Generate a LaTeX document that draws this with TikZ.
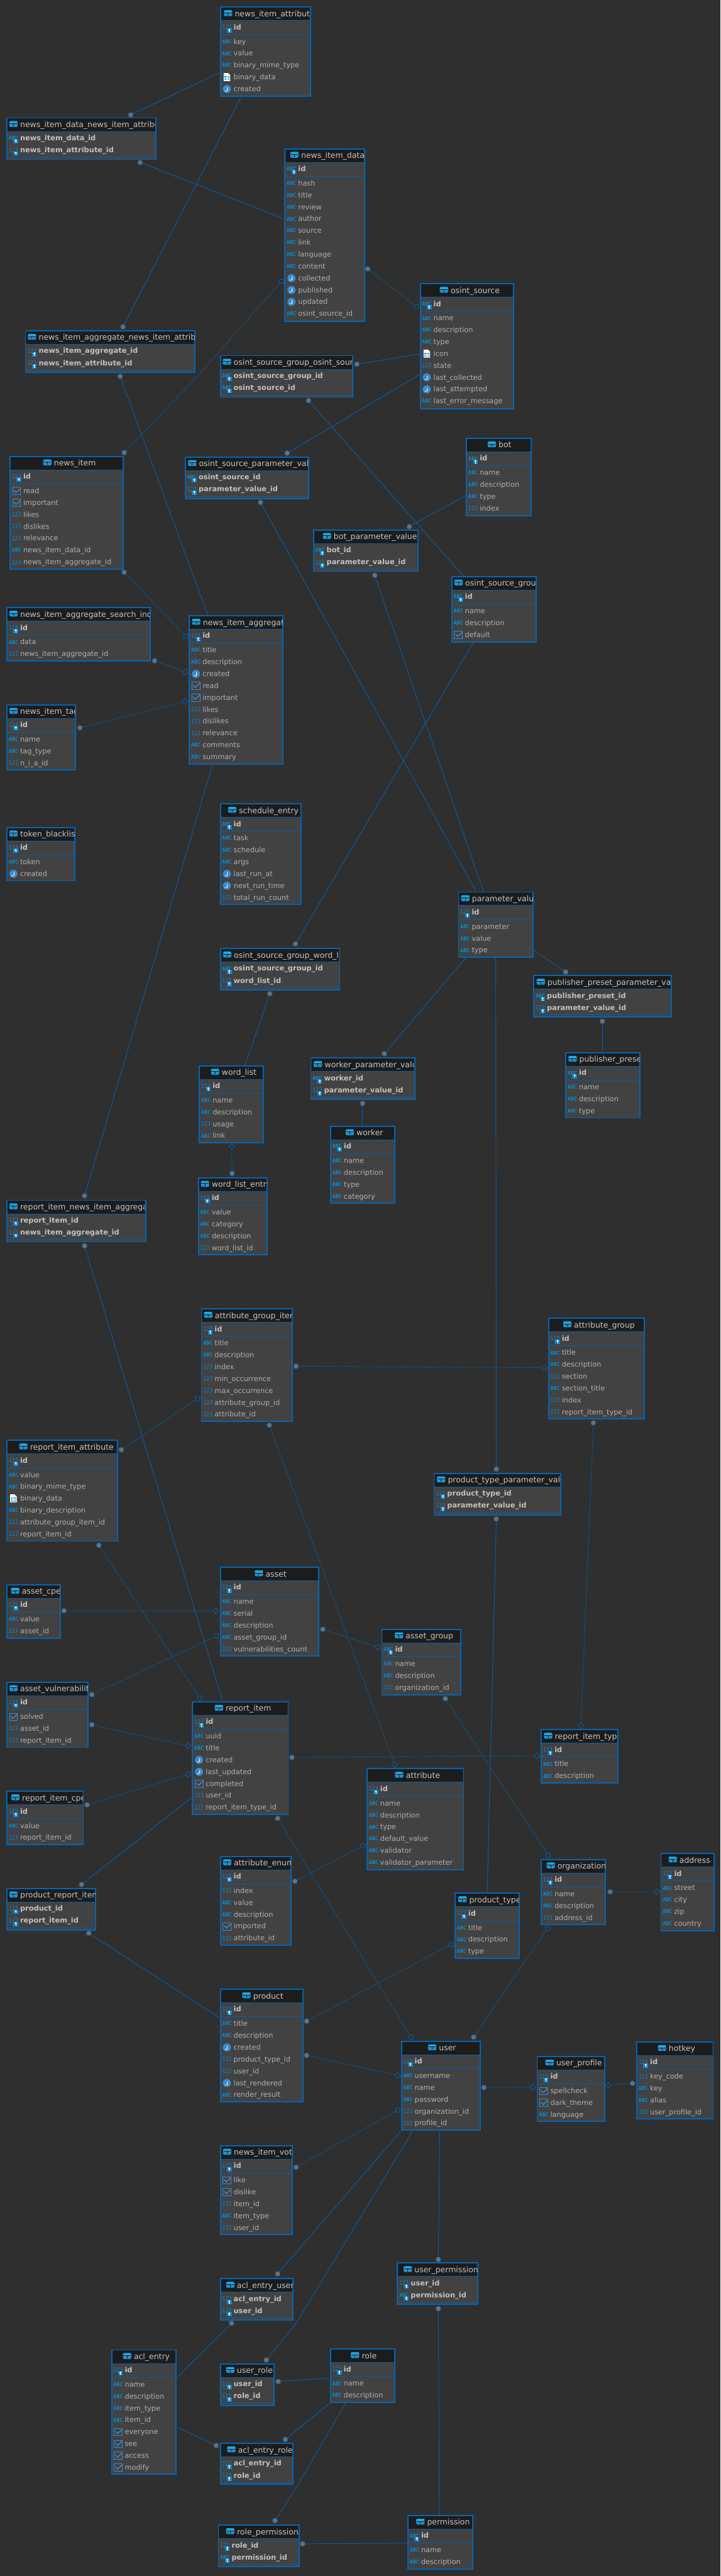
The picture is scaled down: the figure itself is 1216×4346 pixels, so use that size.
\documentclass[tikz,border=0pt]{standalone}
\usepackage{fontspec}
\usepackage{graphicx}
\setmainfont{DejaVu Sans}
\usetikzlibrary{calc}
\AtBeginDocument{\catcode`\_=12 }
\definecolor{pagebg}{HTML}{2F2F2F}
\definecolor{bodybg}{HTML}{424242}
\definecolor{titlebg}{HTML}{1C1C1C}
\definecolor{frameblue}{HTML}{0565B2}
\definecolor{sepblue}{HTML}{0B5C9E}
\definecolor{lineblue}{HTML}{0A5EA6}
\definecolor{dimblue}{HTML}{0B5790}
\definecolor{iconblue}{HTML}{0A88CC}
\definecolor{clockblue}{HTML}{3A8CCF}
\definecolor{tabblue}{HTML}{22A7E2}
\definecolor{tablight}{HTML}{1B93D3}
\definecolor{rowgray}{HTML}{B0B0B0}
\definecolor{boldgray}{HTML}{C2C2C2}
\definecolor{titlegray}{HTML}{C6C6C6}
\definecolor{dotgray}{HTML}{6F6F6F}
\newcounter{nn}
\tikzset{
  tablebox/.style={draw=frameblue,line width=2pt,fill=bodybg,inner sep=0pt,outer sep=0pt},
  rowname/.style={inner sep=0pt,outer sep=0pt,anchor=base west,text=rowgray,font=\fontsize{12}{14}\selectfont},
  pkname/.style={inner sep=0pt,outer sep=0pt,anchor=base west,text=boldgray,font=\fontsize{12.1}{14}\selectfont\bfseries},
  titlename/.style={inner sep=0pt,outer sep=0pt,anchor=base west,text=titlegray,font=\fontsize{13.2}{15}\selectfont},
  abcicon/.style={inner sep=0pt,outer sep=0pt,text=iconblue,font=\fontsize{7}{8}\selectfont\bfseries},
  numicon/.style={inner sep=0pt,outer sep=0pt,text=iconblue,font=\fontsize{8.2}{9}\selectfont},
  solidrel/.style={draw=lineblue,line width=1pt},
  dashrel/.style={draw=dimblue,line width=0.9pt,dash pattern=on 1.4pt off 0.5pt},
  dotend/.style={circle,draw=sepblue,line width=0.8pt,fill=dotgray,minimum size=8.6pt,inner sep=0pt,outer sep=0pt},
  diaend/.style={rectangle,draw=lineblue,line width=0.9pt,fill=none,minimum size=7pt,inner sep=0pt,outer sep=0pt},
}
% field-type icons, each centred on the row
\newcommand\icA[2]{\stepcounter{nn}\node[abcicon] (n\thenn) at ({#1},{#2}) {\scalebox{1}[1.3]{ABC}};}
\newcommand\icN[2]{\stepcounter{nn}\node[numicon] (n\thenn) at ({#1},{#2}) {\scalebox{1}[1.2]{123}};}
\newcommand\icC[2]{\begin{scope}[shift={({#1},{#2})}]
  \fill[clockblue] (0,0) circle (6.8pt);
  \draw[white,line width=0.9pt] (1,-2.5) -- (1,2.5) -- (-3.5,3.6);
\end{scope}}
\newcommand\icB[2]{\begin{scope}[shift={({#1},{#2})}]
  \draw[clockblue,line width=0.9pt] (-6.8,-6) rectangle (6.8,6.5);
  \draw[clockblue,line width=1.5pt] (-4.5,-1) -- (-1,3) -- (7,-4.5);
\end{scope}}
\newcommand\icF[2]{\begin{scope}[shift={({#1},{#2})}]
  \fill[white] (-5.5,-7) -- (2,-7) -- (5.5,-3.5) -- (5.5,6.5) -- (-5.5,6.5) -- cycle;
  \fill[iconblue] (-3.8,-1.5) rectangle (3.8,5);
  \draw[white,line width=0.5pt] (-1.3,-1.5) -- (-1.3,5) (1.3,-1.5) -- (1.3,5) (-3.8,0.7) -- (3.8,0.7) (-3.8,2.9) -- (3.8,2.9);
\end{scope}}
\newcommand\keybadge[2]{\begin{scope}[shift={({#1},{#2})}]
  \fill[iconblue] (0,1.8) rectangle (8,9.2);
  \draw[white,line width=0.8pt] (4,4.2) circle (1.3pt);
  \draw[white,line width=0.8pt] (4,5.4) -- (4,8) (4,7.4) -- (5.3,7.4);
\end{scope}}
\newcommand\tabicon[2]{\begin{scope}[shift={({#1},{#2})}]
  \fill[tablight,rounded corners=1.5pt] (0,0) rectangle (14,10);
  \fill[tabblue] (0.8,0.6) rectangle (13.2,4);
  \fill[titlebg] (0.8,4) rectangle (13.2,5);
  \fill[titlebg] (6.5,5) rectangle (7.5,9);
\end{scope}}
\newcommand\fieldrow[5]{% x0, centre y, icon letter, name, style
  \csname ic#3\endcsname{#1+12}{#2}%
  \stepcounter{nn}\node[#5] (n\thenn) at ({#1+23.3},{#2+4.2}) {#4};}
\newcommand\dbframe[7]{% name x0 y0 x1 y1 offset title
  \pgfmathsetmacro\tbw{#4-#2-2}\pgfmathsetmacro\tbh{#5-#3-2}
  \node[tablebox,minimum width=\tbw pt,minimum height=\tbh pt] (#1) at ({(#2+#4)/2},{(#3+#5)/2}) {};
  \begin{scope}
    \clip ({#2+2},{#3+2}) rectangle ({#4-2},{#3+23.3});
    \fill[titlebg] ({#2+2},{#3+2}) rectangle ({#4-2},{#3+23.3});
    \tabicon{#2+#6}{#3+6.2}
    \stepcounter{nn}\node[titlename] (n\thenn) at ({#2+#6+18.4},{#3+17}) {#7};
  \end{scope}
  \draw[sepblue,line width=1pt] ({#2+2},{#3+23.8}) -- ({#4-2},{#3+23.8});}
% a table with one key row and a list of plain rows
\newcommand\dbtable[9]{\dbframe{#1}{#2}{#3}{#4}{#5}{#6}{#7}
  \draw[sepblue,line width=1pt] ({#2+2},{#3+47.4}) -- ({#4-2},{#3+47.4});
  \fieldrow{#2}{#3+35}{#8}{id}{pkname}
  \keybadge{#2+12}{#3+35}
  \foreach \ic/\nm [count=\k from 0] in {#9}{\fieldrow{#2}{#3+59.2+20*\k}{\ic}{\nm}{rowname}}}
% a join table: two key rows and an empty field section
\newcommand\dbjoin[9]{\dbframe{#1}{#2}{#3}{#4}{#5}{#6}{#7}
  \draw[sepblue,line width=1pt] ({#2+2},{#3+67.4}) -- ({#4-2},{#3+67.4});
  \fieldrow{#2}{#3+35}{#8}{#9}{pkname}\keybadge{#2+12}{#3+35}}
\newcommand\joinsecond[4]{\fieldrow{#1}{#2+55.4}{#3}{#4}{pkname}\keybadge{#1+12}{#2+55.4}}
% relation ends
\newcommand\mkd[4]{\node[dotend] (#1) at (#2,#3) {};}
\newcommand\mkq[4]{\node[diaend,rotate=#4+45] (#1) at (#2,#3) {};}
\newcommand\mkn[4]{\coordinate (#1) at (#2,#3);}
\newcommand\rel[8]{%
  \pgfmathsetmacro\relang{atan2(#4-#7,#6-#3)}
  \csname mk#5\endcsname{#1a}{#3}{#4}{\relang}
  \csname mk#8\endcsname{#1b}{#6}{#7}{\relang}
  \draw[#2] (#1a) -- (#1b);}
\begin{document}
\begin{tikzpicture}[x=1pt,y=-1pt]
\useasboundingbox (0,0) rectangle (1216,4346);
\fill[pagebg] (0,0) rectangle (1216,4346);
% ---------- relations ----------
\rel{ra}{solidrel}{220.6}{193.8}{d}{369.7}{123}{n}
\rel{rb}{solidrel}{236.5}{274}{d}{478.5}{368.7}{n}
\rel{rc}{solidrel}{207.6}{551.4}{d}{406.5}{164.4}{n}
\rel{rd}{solidrel}{202.8}{635}{d}{350.3}{1036.8}{n}
\node[dotend] (rea) at (209.6,763.6) {};
\coordinate (rem) at (332,636);
\node[diaend,rotate=90] (reb) at (475.3,474.7) {};
\draw[dashrel] (rea) -- (rem) -- (reb);
\rel{rf}{solidrel}{520.8}{675.8}{d}{782}{971.6}{n}
\rel{rg}{solidrel}{484.8}{764.5}{d}{708}{632}{n}
\rel{rh}{solidrel}{602.4}{614.4}{d}{707.7}{597.4}{n}
\rel{ri}{dashrel}{620.8}{453.7}{d}{703.3}{517.5}{q}
\rel{rj}{solidrel}{439.7}{847.6}{d}{803}{1503}{n}
\rel{rk}{solidrel}{632.6}{970.7}{d}{815.8}{1503}{n}
\rel{rl}{solidrel}{690.8}{888.5}{d}{785.9}{836.2}{n}
\rel{rm}{solidrel}{498.6}{1592.5}{d}{798.4}{1084.6}{n}
\rel{rn}{solidrel}{455.4}{1676.5}{d}{413.9}{1796.4}{n}
\rel{ro}{dashrel}{391.1}{1934.6}{q}{391.7}{1979.6}{d}
\rel{rp}{solidrel}{648.7}{1777.6}{d}{786}{1616}{n}
\rel{rq}{solidrel}{612}{1861.6}{d}{611.3}{1898.8}{n}
\rel{rr}{solidrel}{954.8}{1639.8}{d}{901.6}{1603.5}{n}
\rel{rs}{solidrel}{1016.7}{1723}{d}{1016.7}{1774.8}{n}
\rel{rt}{solidrel}{837.7}{2478.7}{d}{836.8}{1616}{n}
\rel{ru}{solidrel}{837.7}{2562.7}{d}{822.4}{3192.5}{n}
\rel{rv}{dashrel}{209.6}{965.6}{d}{314}{1073.5}{q}
\rel{rw}{dashrel}{261}{1114.8}{d}{312.8}{1133.7}{q}
\rel{rx}{dashrel}{134.8}{1227.8}{d}{312}{1183.7}{q}
\rel{ry}{solidrel}{142.7}{2017.4}{d}{358.6}{1290.2}{n}
\rel{rz}{solidrel}{142.7}{2102}{d}{375.2}{2869}{n}
\rel{sa}{dashrel}{204.8}{2445.8}{d}{333.3}{2359.5}{q}
\rel{sb}{dashrel}{499.8}{2304.9}{d}{918.7}{2307.4}{q}
\rel{sc}{dashrel}{454.7}{2404.5}{d}{666}{2977}{q}
\rel{sd}{dashrel}{166.9}{2607}{d}{337.3}{2864.4}{q}
\rel{se}{dashrel}{108}{2717.4}{d}{364.2}{2717.4}{q}
\rel{sf}{dashrel}{155}{2858.9}{d}{365.4}{2760}{q}
\rel{sg}{dashrel}{155}{2909.8}{d}{317.1}{2945.6}{q}
\rel{sh}{dashrel}{147}{3044.8}{d}{317.5}{2993}{q}
\rel{si}{solidrel}{137.6}{3179.3}{d}{323}{3032.9}{n}
\rel{sj}{solidrel}{149.9}{3261.5}{d}{370.1}{3403.9}{n}
\rel{sk}{dashrel}{544.9}{2748.7}{d}{637.7}{2779}{q}
\rel{sl}{dashrel}{751.7}{2865.7}{d}{925.3}{3130}{q}
\rel{sm}{dashrel}{1001.6}{2400.6}{d}{980.4}{2911.2}{q}
\rel{sn}{dashrel}{492.7}{2964.9}{d}{906.5}{2962}{q}
\rel{so}{dashrel}{468.6}{3067.8}{d}{693.5}{3436.7}{q}
\rel{sp}{dashrel}{497.8}{3173.8}{d}{612.6}{3114}{q}
\rel{sq}{dashrel}{517.6}{3409.8}{d}{761.5}{3280.6}{q}
\rel{sr}{dashrel}{517.6}{3467.6}{d}{671.1}{3501.5}{q}
\rel{ss}{dashrel}{799.6}{3436.7}{d}{924.2}{3253}{q}
\rel{st}{dashrel}{1029.9}{3191.6}{d}{1108.4}{3191.6}{q}
\rel{su}{dashrel}{816.9}{3521.7}{d}{899.4}{3521.2}{q}
\rel{sv}{dashrel}{1067.6}{3514.8}{d}{1026.7}{3518}{q}
\rel{sw}{dashrel}{499.8}{3656.4}{d}{671.5}{3559.9}{q}
\rel{sx}{solidrel}{468.6}{3836.2}{d}{676.6}{3595.5}{n}
\rel{sy}{solidrel}{390.7}{3919.5}{d}{299}{4010.6}{n}
\node[dotend] (sza) at (449.6,3981.6) {};
\coordinate (szm) at (500.2,3918.9);
\coordinate (szb) at (696.3,3596);
\draw[solidrel] (sza) -- (szm) -- (szb);
\rel{ta}{solidrel}{469.7}{4017.8}{d}{556.7}{4011.8}{n}
\rel{tb}{solidrel}{365}{4125.8}{d}{299}{4095}{n}
\rel{tc}{solidrel}{481.6}{4115.5}{d}{556.7}{4054}{n}
\node[dotend] (tda) at (464.2,4252.5) {};
\coordinate (tdm) at (500.2,4196.4);
\coordinate (tdb) at (583.2,4054.6);
\draw[solidrel] (tda) -- (tdm) -- (tdb);
\rel{te}{solidrel}{510.9}{4291.7}{d}{687.2}{4290.6}{n}
\rel{tf}{solidrel}{739.9}{3812}{d}{742.2}{3595.5}{n}
\rel{tg}{solidrel}{739.9}{3895}{d}{741.5}{4242.6}{n}
% ---------- tables ----------
\dbtable{newsitemattribute}{371}{11}{525}{163}{7}{news_item_attribute}{N}{A/key,A/value,A/binary_mime_type,F/binary_data,C/created}
\dbjoin{nidnia}{10.7}{198}{264}{270}{5}{news_item_data_news_item_attribute}{A}{news_item_data_id}\joinsecond{10.7}{198}{N}{news_item_attribute_id}
\dbtable{newsitemdata}{480}{250}{616}{543}{10}{news_item_data}{A}{A/hash,A/title,A/review,A/author,A/source,A/link,A/language,A/content,C/collected,C/published,C/updated,A/osint_source_id}
\dbjoin{nianiattr}{42}{557}{330}{629}{5}{news_item_aggregate_news_item_attribute}{N}{news_item_aggregate_id}\joinsecond{42}{557}{N}{news_item_attribute_id}
\dbjoin{osgos}{371}{599}{596}{671}{5}{osint_source_group_osint_source}{A}{osint_source_group_id}\joinsecond{371}{599}{A}{osint_source_id}
\dbtable{osintsource}{708.4}{477.6}{867.6}{690.6}{34}{osint_source}{A}{A/name,A/description,A/type,F/icon,N/state,C/last_collected,C/last_attempted,A/last_error_message}
\dbtable{bot}{786.6}{738.4}{897.8}{871.5}{36.6}{bot}{A}{A/name,A/description,A/type,N/index}
\dbtable{osintsourcegroup}{761.5}{971.6}{906.5}{1084.6}{5.5}{osint_source_group}{A}{A/name,A/description,B/default}
\dbjoin{botparam}{528}{893}{706.5}{965}{17}{bot_parameter_value}{A}{bot_id}\joinsecond{528}{893}{N}{parameter_value_id}
\dbtable{newsitem}{16}{769}{209}{961}{56.8}{news_item}{N}{B/read,B/important,N/likes,N/dislikes,N/relevance,A/news_item_data_id,N/news_item_aggregate_id}
\dbjoin{ospv}{312}{770}{521.5}{842}{5.5}{osint_source_parameter_value}{A}{osint_source_id}\joinsecond{312}{770}{N}{parameter_value_id}
\dbtable{niasi}{10.7}{1024}{255}{1116}{5}{news_item_aggregate_search_index}{N}{A/data,N/news_item_aggregate_id}
\dbtable{newsitemaggregate}{318.7}{1037.7}{478.5}{1290}{5.5}{news_item_aggregate}{N}{A/title,A/description,C/created,B/read,B/important,N/likes,N/dislikes,N/relevance,A/comments,A/summary}
\dbtable{newsitemtag}{10.7}{1188}{128.5}{1300}{5}{news_item_tag}{N}{A/name,A/tag_type,N/n_i_a_id}
\dbtable{tokenblacklist}{10.7}{1395}{127.7}{1487}{5}{token_blacklist}{N}{A/token,C/created}
\dbtable{scheduleentry}{371}{1355}{509}{1527}{14}{schedule_entry}{A}{A/task,A/schedule,A/args,C/last_run_at,C/next_run_time,N/total_run_count}
\dbjoin{osgwl}{371}{1599}{574.5}{1671}{5.5}{osint_source_group_word_list}{A}{osint_source_group_id}\joinsecond{371}{1599}{N}{word_list_id}
\dbtable{parametervalue}{773}{1504}{901}{1616}{5.4}{parameter_value}{N}{A/parameter,A/value,A/type}
\dbjoin{pppv}{900}{1645}{1134}{1717}{5.7}{publisher_preset_parameter_value}{A}{publisher_preset_id}\joinsecond{900}{1645}{N}{parameter_value_id}
\dbtable{publisherpreset}{954}{1775}{1081.5}{1887}{5.5}{publisher_preset}{A}{A/name,A/description,A/type}
\dbjoin{wpv}{523.7}{1784}{701}{1856}{6}{worker_parameter_value}{A}{worker_id}\joinsecond{523.7}{1784}{N}{parameter_value_id}
\dbtable{wordlist}{335.6}{1797}{446}{1929}{20.4}{word_list}{N}{A/name,A/description,N/usage,A/link}
\dbtable{worker}{557}{1899}{667.4}{2031}{26.3}{worker}{A}{A/name,A/description,A/type,A/category}
\dbtable{wordlistentry}{334}{1986}{452}{2118}{5}{word_list_entry}{N}{A/value,A/category,A/description,N/word_list_id}
\dbjoin{rinia}{10.7}{2024}{246.7}{2096}{5}{report_item_news_item_aggregate}{N}{report_item_id}\joinsecond{10.7}{2024}{N}{news_item_aggregate_id}
\dbtable{attributegroupitem}{339}{2207}{494.7}{2399}{5.4}{attribute_group_item}{N}{A/title,A/description,N/index,N/min_occurrence,N/max_occurrence,N/attribute_group_id,N/attribute_id}
\dbtable{reportitemattribute}{10.7}{2429}{199}{2601}{21.7}{report_item_attribute}{N}{A/value,A/binary_mime_type,F/binary_data,A/binary_description,N/attribute_group_item_id,N/report_item_id}
\dbtable{asset}{371}{2643}{538.6}{2795}{59}{asset}{N}{A/name,A/serial,A/description,A/asset_group_id,N/vulnerabilities_count}
\dbtable{assetcpe}{10.7}{2672.6}{102.4}{2765}{8}{asset_cpe}{N}{A/value,N/asset_id}
\dbtable{attributegroup}{925}{2223}{1089}{2395}{25.5}{attribute_group}{N}{A/title,A/description,N/section,A/section_title,N/index,N/report_item_type_id}
\dbjoin{ptpv}{731.6}{2484.7}{947.7}{2557}{6}{product_type_parameter_value}{N}{product_type_id}\joinsecond{731.6}{2484.7}{N}{parameter_value_id}
\dbtable{assetgroup}{643.6}{2747.7}{778.8}{2860}{22.8}{asset_group}{A}{A/name,A/description,N/organization_id}
\dbtable{assetvuln}{10.7}{2837}{149.5}{2949}{5}{asset_vulnerability}{N}{B/solved,N/asset_id,N/report_item_id}
\dbtable{reportitem}{324}{2870}{487.5}{3062}{38.6}{report_item}{N}{A/uuid,A/title,C/created,C/last_updated,B/completed,N/user_id,N/report_item_type_id}
\dbtable{reportitemcpe}{10.7}{3021}{141.6}{3113}{8.3}{report_item_cpe}{N}{A/value,N/report_item_id}
\dbtable{attributeenum}{371}{3130.7}{492.7}{3283}{5.4}{attribute_enum}{N}{N/index,A/value,A/description,B/imported,N/attribute_id}
\dbjoin{productreportitem}{10.7}{3185}{162.5}{3257}{5}{product_report_item}{N}{product_id}\joinsecond{10.7}{3185}{N}{report_item_id}
\dbtable{product}{371}{3355}{512.5}{3547}{38}{product}{N}{A/title,A/description,C/created,N/product_type_id,N/user_id,C/last_rendered,A/render_result}
\dbtable{reportitemtype}{912.8}{2917}{1043.6}{3009}{5.5}{report_item_type}{N}{A/title,A/description}
\dbtable{attribute}{618.5}{2983}{783.5}{3155}{48.3}{attribute}{N}{A/name,A/description,A/type,A/default_value,A/validator,A/validator_parameter}
\dbtable{organization}{912.8}{3136}{1023}{3248}{9.8}{organization}{N}{A/name,A/description,N/address_id}
\dbtable{address}{1114.7}{3126}{1206}{3258}{13.8}{address}{N}{A/street,A/city,A/zip,A/country}
\dbtable{producttype}{767}{3193}{877.8}{3305}{6.7}{product_type}{N}{A/title,A/description,A/type}
\dbtable{user}{676.6}{3442.7}{811.8}{3595}{46}{user}{N}{A/username,A/name,A/password,N/organization_id,N/profile_id}
\dbtable{userprofile}{905.7}{3468.4}{1021.6}{3580}{15}{user_profile}{N}{B/spellcheck,B/dark_theme,A/language}
\dbtable{hotkey}{1073.9}{3444}{1204.7}{3576}{36.5}{hotkey}{N}{N/key_code,A/key,A/alias,N/user_profile_id}
\dbtable{newsitemvote}{371}{3619}{494.7}{3771}{5.4}{news_item_vote}{N}{B/like,B/dislike,N/item_id,A/item_type,N/user_id}
\dbjoin{acluser}{371}{3843.4}{495.5}{3915}{10.6}{acl_entry_user}{N}{acl_entry_id}\joinsecond{371}{3843.4}{N}{user_id}
\dbtable{aclentry}{187.4}{3963.5}{298.5}{4174.7}{20.2}{acl_entry}{N}{A/name,A/description,A/item_type,A/item_id,B/everyone,B/see,B/access,B/modify}
\dbjoin{userrole}{371}{3987}{463.4}{4059}{10.6}{user_role}{N}{user_id}\joinsecond{371}{3987}{N}{role_id}
\dbtable{role}{556.7}{3962}{667.6}{4054}{35.6}{role}{N}{A/name,A/description}
\dbjoin{aclrole}{371}{4121}{495.5}{4192}{12.5}{acl_entry_role}{N}{acl_entry_id}\joinsecond{371}{4121}{N}{role_id}
\dbjoin{rolepermission}{367.7}{4259}{505.7}{4331}{14}{role_permission}{N}{role_id}\joinsecond{367.7}{4259}{A}{permission_id}
\dbtable{permission}{687.6}{4243}{798.8}{4335}{15}{permission}{A}{A/name,A/description}
\dbjoin{userpermission}{670}{3817}{807.5}{3889}{11.3}{user_permission}{N}{user_id}\joinsecond{670}{3817}{A}{permission_id}
\end{tikzpicture}
\end{document}
